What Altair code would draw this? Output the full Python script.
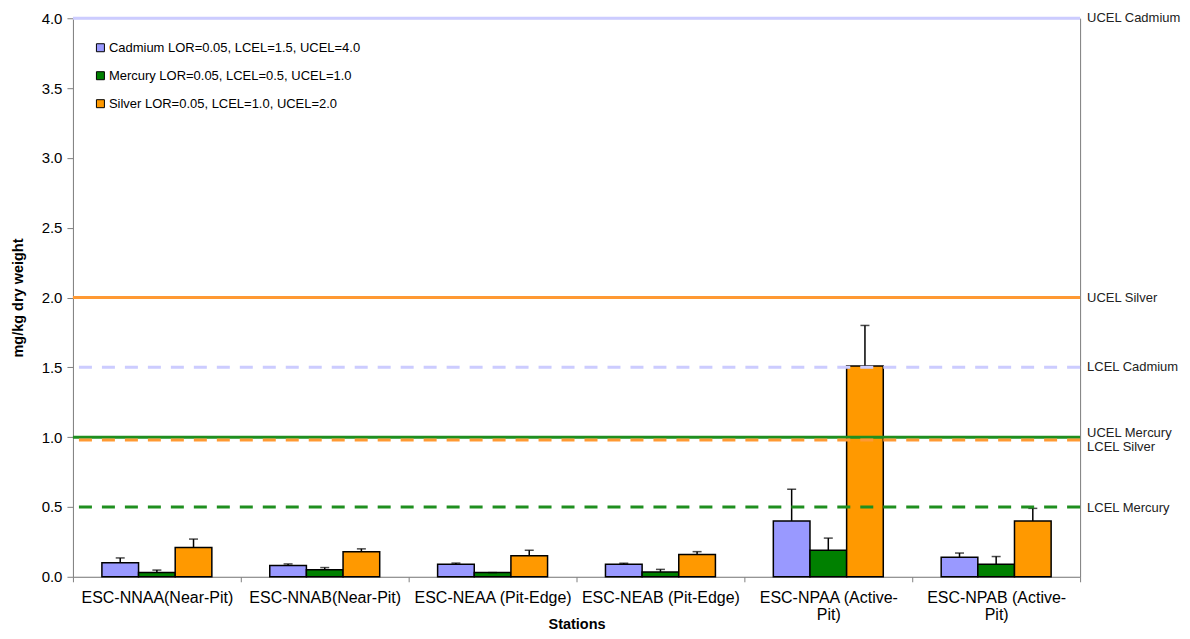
import altair as alt
import pandas as pd

stations = ["ESC-NNAA(Near-Pit)", "ESC-NNAB(Near-Pit)", "ESC-NEAA (Pit-Edge)",
            "ESC-NEAB (Pit-Edge)", "ESC-NPAA (Active-Pit)", "ESC-NPAB (Active-Pit)"]
series = ["Cadmium LOR=0.05, LCEL=1.5, UCEL=4.0",
          "Mercury LOR=0.05, LCEL=0.5, UCEL=1.0",
          "Silver LOR=0.05, LCEL=1.0, UCEL=2.0"]
series_colors = ["#9999ff", "#008000", "#ff9900"]

cadmium = [0.10, 0.08, 0.09, 0.09, 0.40, 0.14]
cadmium_err = [0.035, 0.012, 0.008, 0.007, 0.227, 0.03]
mercury = [0.03, 0.05, 0.03, 0.035, 0.19, 0.09]
mercury_err = [0.018, 0.016, 0.0, 0.018, 0.087, 0.055]
silver = [0.21, 0.18, 0.15, 0.16, 1.51, 0.40]
silver_err = [0.06, 0.02, 0.04, 0.02, 0.29, 0.09]

limit_names = ["UCEL Cadmium", "UCEL Silver", "LCEL Cadmium", "UCEL Mercury", "LCEL Silver", "LCEL Mercury"]
limit_values = [4.0, 2.0, 1.5, 1.0, 0.98, 0.5]
limit_colors = ["#ccccff", "#ff9933", "#ccccff", "#1f8f1f", "#ff9933", "#1f8f1f"]
limit_dashed = [False, False, True, False, True, True]
label_pos = [4.0, 2.0, 1.5, 1.03, 0.93, 0.49]

rows = []
for vals, errs, s in [(cadmium, cadmium_err, series[0]), (mercury, mercury_err, series[1]), (silver, silver_err, series[2])]:
    for st, v, e in zip(stations, vals, errs):
        rows.append({"station": st, "series": s, "value": v, "upper": v + e})
df = pd.DataFrame(rows)

lim = pd.DataFrame({"name": limit_names, "value": limit_values, "color": limit_colors,
                    "dashed": limit_dashed, "label_y": label_pos})

W, H = 1008, 559
FONT = "Liberation Sans"

yscale = alt.Scale(domain=[0, 4], nice=False, zero=True)
xenc = alt.X("station:N", sort=stations, scale=alt.Scale(paddingInner=0, paddingOuter=0),
             axis=alt.Axis(title="Stations", labelAngle=0, tickBand="extent", labelFontSize=16,
                           labelColor="#000", labelFont=FONT, labelBaseline="top", labelLineHeight=17,
                           labelPadding=8, tickSize=5, tickColor="#808080", domainColor="#808080",
                           titleFontSize=14.5, titleFont=FONT, titleFontWeight="bold",
                           titleBaseline="middle", titleY=48,
                           titleColor="#000", labelLimit=300,
                           labelExpr="indexof(datum.label, 'Active-') >= 0 ? [replace(datum.label, 'Pit)', ''), 'Pit)'] : datum.label"))
xoff = alt.XOffset("series:N", sort=series, scale=alt.Scale(paddingInner=0, paddingOuter=0.79))
xplain = alt.X("station:N", sort=stations)

bars = alt.Chart(df).mark_bar(stroke="#000", strokeWidth=1.5).encode(
    x=xenc,
    xOffset=xoff,
    y=alt.Y("value:Q", scale=yscale,
            axis=alt.Axis(title="mg/kg dry weight", values=[0, 0.5, 1, 1.5, 2, 2.5, 3, 3.5, 4], format=".1f",
                          grid=False, labelFontSize=15, labelFont=FONT, labelColor="#000", tickSize=6,
                          labelPadding=5,
                          tickColor="#808080", domainColor="#808080", titleFontSize=14.5, titleFont=FONT,
                          titleFontWeight="bold", titleColor="#000", titlePadding=16)),
    color=alt.Color("series:N", sort=series, scale=alt.Scale(domain=series, range=series_colors),
                    legend=alt.Legend(title=None, orient="none", legendX=21, legendY=23, symbolType="square",
                                      symbolSize=64, symbolStrokeColor="#000", symbolStrokeWidth=1,
                                      labelFontSize=13, labelFont=FONT, labelColor="#000", rowPadding=14,
                                      labelOffset=2, labelLimit=400)),
)

err_rule = alt.Chart(df).mark_rule(color="#000", strokeWidth=1.5).encode(
    x=xplain, xOffset=xoff,
    y=alt.Y("value:Q", scale=yscale, axis=None), y2="upper:Q")
err_cap = alt.Chart(df).mark_tick(color="#000", thickness=1.5, size=9, orient="horizontal").encode(
    x=xplain, xOffset=xoff,
    y=alt.Y("upper:Q", scale=yscale, axis=None))

solid = alt.Chart(lim).transform_filter("!datum.dashed").mark_rule(strokeWidth=3).encode(
    y=alt.Y("value:Q", scale=yscale, axis=None), color=alt.Color("color:N", scale=None))
dashed = alt.Chart(lim).transform_filter("datum.dashed").mark_rule(strokeWidth=3, strokeDash=[13, 10]).encode(
    y=alt.Y("value:Q", scale=yscale, axis=None), color=alt.Color("color:N", scale=None))

labels = alt.Chart(lim).mark_text(align="left", baseline="middle", dx=7, fontSize=13, font=FONT,
                                  color="#222").encode(
    x=alt.value(W),
    y=alt.Y("label_y:Q", scale=yscale,
            axis=alt.Axis(orient="right", labels=False, ticks=False, title=None, grid=False,
                          domainColor="#808080")),
    text="name:N")

chart = alt.layer(bars, err_rule, err_cap, solid, dashed, labels).resolve_axis(y="independent").properties(
    width=W, height=H,
    autosize=alt.AutoSizeParams(type="none"),
    padding={"left": 65, "top": 10, "right": 102, "bottom": 60},
).configure_view(stroke=None).configure(font=FONT)

chart.save("out.html", embed_options={"renderer": "svg", "actions": False})
